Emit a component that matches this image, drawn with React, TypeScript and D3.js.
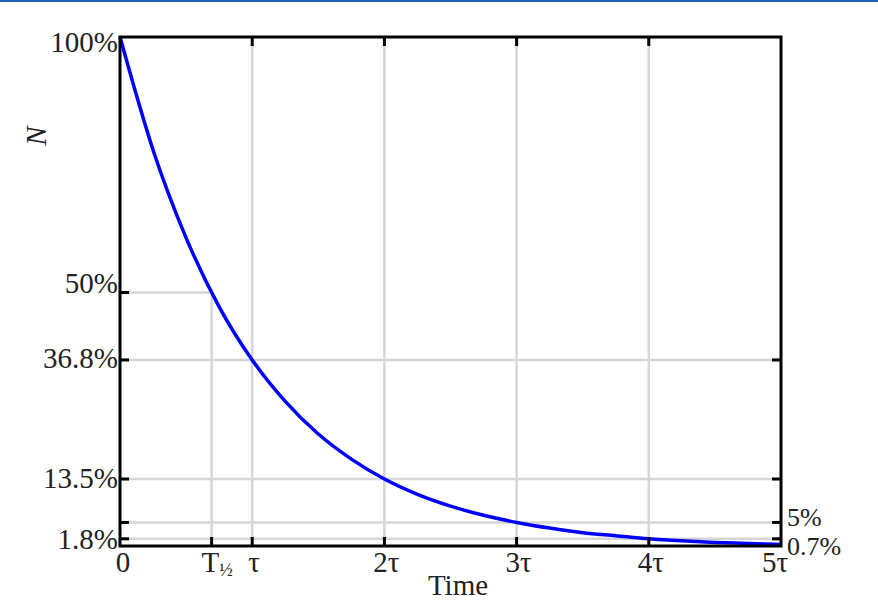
import React from "react";
import * as d3 from "d3";

// Time in units of tau, and fraction of N remaining
const times = [0, 0.25, 0.5, 0.75, 1, 1.25, 1.5, 1.75, 2, 2.25, 2.5, 2.75, 3, 3.25, 3.5, 3.75, 4, 4.25, 4.5, 4.75, 5];
const remaining = [1, 0.779, 0.607, 0.472, 0.368, 0.287, 0.223, 0.174, 0.135, 0.105, 0.082, 0.064, 0.05, 0.039, 0.03, 0.024, 0.018, 0.014, 0.011, 0.009, 0.007];

// x ticks
const xTickValues = [0, 0.693, 1, 2, 3, 4, 5];
const xTickLabels = ["0", "T½", "τ", "2τ", "3τ", "4τ", "5τ"];
// y ticks
const yLeftValues = [1, 0.5, 0.368, 0.135, 0.018];
const yLeftLabels = ["100%", "50%", "36.8%", "13.5%", "1.8%"];
const yRightValues = [0.05, 0.007];
const yRightLabels = ["5%", "0.7%"];
// grid
const gridHValues = [0.368, 0.135, 0.05, 0.018];
const gridVValues = [1, 2, 3, 4];
const halfLife = 0.693;
const halfLevel = 0.5;
// tick marks (inward)
const leftTickValues = [0.5, 0.368, 0.135, 0.05, 0.018];
const rightTickValues = [0.368, 0.135, 0.05, 0.018];
const bottomTickValues = [0.693, 1, 2, 3, 4];
const topTickValues = [1, 2, 3, 4];

const W = 878;
const H = 608;
const left = 120, right = 781, top = 37, bottom = 546;

export default function App() {
  const x = d3.scaleLinear().domain([0, 5]).range([left, right]);
  const y = d3.scaleLinear().domain([0, 1]).range([548, top]);

  const line = d3
    .line<number>()
    .x((_, i) => x(times[i]))
    .y((d) => y(d))
    .curve(d3.curveMonotoneX);

  const font = "'Liberation Serif', 'Times New Roman', serif";
  const grid = "#d6d6d6";
  const tickLen = 9;
  const txt = "#222";

  const leftDy: Record<string, number> = { "100%": 15, "50%": 0, "36.8%": 8, "13.5%": 9, "1.8%": 10 };
  const rightDy: Record<string, number> = { "5%": 4, "0.7%": 11 };
  const xDx = (i: number) => (i === 0 ? 3 : i === xTickLabels.length - 1 ? -6 : 2);

  return (
    <svg width={W} height={H} style={{ position: "absolute", left: 0, top: 0, background: "#fff" }}>
      <rect x={0} y={0} width={W} height={2} fill="#1f5fbf" />
      {/* grid */}
      <g stroke={grid} strokeWidth={2.5}>
        {gridVValues.map((v) => (
          <line key={"gv" + v} x1={x(v)} x2={x(v)} y1={top} y2={bottom} />
        ))}
        {gridHValues.map((v) => (
          <line key={"gh" + v} x1={left} x2={right} y1={y(v)} y2={y(v)} />
        ))}
        <line x1={left} x2={x(halfLife)} y1={y(halfLevel)} y2={y(halfLevel)} />
        <line x1={x(halfLife)} x2={x(halfLife)} y1={y(halfLevel)} y2={bottom} />
      </g>
      {/* curve */}
      <path d={line(remaining) || ""} fill="none" stroke="#0000ff" strokeWidth={3.5} />
      {/* frame */}
      <rect x={left} y={top} width={right - left} height={bottom - top} fill="none" stroke="#000" strokeWidth={3} />
      {/* ticks */}
      <g stroke="#000" strokeWidth={3}>
        {leftTickValues.map((v) => (
          <line key={"lt" + v} x1={left} x2={left + tickLen} y1={y(v)} y2={y(v)} />
        ))}
        {rightTickValues.map((v) => (
          <line key={"rt" + v} x1={right} x2={right - tickLen} y1={y(v)} y2={y(v)} />
        ))}
        {bottomTickValues.map((v) => (
          <line key={"bt" + v} x1={x(v)} x2={x(v)} y1={bottom} y2={bottom - tickLen} />
        ))}
        {topTickValues.map((v) => (
          <line key={"tt" + v} x1={x(v)} x2={x(v)} y1={top} y2={top + tickLen} />
        ))}
      </g>
      {/* labels */}
      <g fontFamily={font} fontSize={29} fill={txt}>
        {yLeftValues.map((v, i) => (
          <text key={"yl" + i} x={left - 2} y={y(v) + leftDy[yLeftLabels[i]]} textAnchor="end">
            {yLeftLabels[i]}
          </text>
        ))}
        {yRightValues.map((v, i) => (
          <text key={"yr" + i} x={right + 6} y={y(v) + rightDy[yRightLabels[i]]} textAnchor="start" fontSize={26}>
            {yRightLabels[i]}
          </text>
        ))}
        {xTickValues.map((v, i) =>
          xTickLabels[i] === "T½" ? (
            <text key={"xl" + i} x={x(v) - 10} y={572} textAnchor="start">
              T<tspan fontSize={18} dy={4}>½</tspan>
            </text>
          ) : (
            <text key={"xl" + i} x={x(v) + xDx(i)} y={572} textAnchor="middle">
              {xTickLabels[i]}
            </text>
          )
        )}
        <text x={458} y={595} textAnchor="middle">Time</text>
        <text x={46} y={136} textAnchor="middle" fontStyle="italic" transform="rotate(-90 46 136)">N</text>
      </g>
    </svg>
  );
}
